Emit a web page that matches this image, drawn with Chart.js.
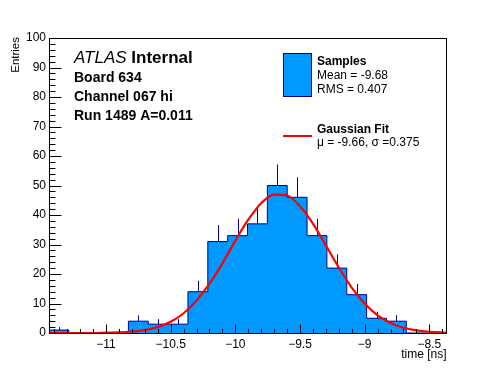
<!DOCTYPE html>
<html>
<head>
<meta charset="utf-8">
<script src="https://cdn.jsdelivr.net/npm/chart.js@4"></script>
<style>
  body { margin: 0; background: #fff; }
  canvas { display: block; }
</style>
</head>
<body>
<canvas id="tiempoChart" width="496" height="372"></canvas>
<script>
// Histogram definition (20 bins over the axis range)
const binLow = -11.441;
const binHigh = -8.371;
const counts = [1, 0, 0, 0, 4, 3, 3, 14, 31, 33, 37, 50, 46, 33, 22, 13, 5, 4, 0, 0];
const errors = [1, 0, 0, 0, 2, 1.7, 1.7, 3.7, 5.6, 5.7, 6.1, 7.1, 6.8, 5.7, 4.7, 3.6, 2.2, 2, 0, 0];

// Gaussian fit curve
const fitX = [-11.44, -11.3, -11.2, -11.1, -11.0, -10.9, -10.8, -10.7, -10.6, -10.5, -10.4, -10.3, -10.2, -10.1, -10.0,
              -9.9, -9.8, -9.7, -9.6, -9.5, -9.4, -9.3, -9.2, -9.1, -9.0, -8.9, -8.8, -8.7, -8.6, -8.5, -8.37];
const fitY = [0, 0, 0, 0, 0.1, 0.2, 0.5, 1.0, 2.0, 3.8, 6.7, 11.0, 16.7, 23.6, 31.3,
              38.4, 44.0, 46.9, 46.6, 43.0, 37.1, 29.7, 22.2, 15.4, 10.0, 6.0, 3.4, 1.8, 0.9, 0.4, 0.1];

const xTicks = [-11, -10.5, -10, -9.5, -9, -8.5];
const yTicks = [0, 10, 20, 30, 40, 50, 60, 70, 80, 90, 100];
const infoLines = ['Board 634', 'Channel 067 hi', 'Run 1489 A=0.011'];

const FONT = "'Liberation Sans', Arial, Helvetica, sans-serif";
const AZUL = '#0099ff';
const AZUL_OSC = '#000099';

const binWidth = (binHigh - binLow) / counts.length;
const histoPts = counts.map((c, i) => ({ x: binLow + i * binWidth, y: c }));
histoPts.push({ x: binHigh, y: counts[counts.length - 1] });

function linea(ctx, x1, y1, x2, y2) {
    ctx.beginPath();
    ctx.moveTo(x1, y1);
    ctx.lineTo(x2, y2);
    ctx.stroke();
}

// Error bars (only the upper half shows above the fill)
const erroresPlugin = {
    id: 'errores',
    beforeDatasetsDraw(chart) {
        const { ctx, scales: { x, y } } = chart;
        ctx.save();
        ctx.strokeStyle = AZUL_OSC;
        ctx.lineWidth = 1;
        counts.forEach((c, i) => {
            if (c <= 0) return;
            const px = Math.round(x.getPixelForValue(binLow + (i + 0.5) * binWidth)) + 0.5;
            linea(ctx, px, y.getPixelForValue(c), px, y.getPixelForValue(c + errors[i]));
        });
        ctx.restore();
    }
};

// Frame, inward ticks, labels and legend, ROOT style
const marcoPlugin = {
    id: 'marco',
    afterDraw(chart) {
        const { ctx, chartArea: a, scales: { x, y } } = chart;
        ctx.save();
        ctx.strokeStyle = '#000';
        ctx.lineWidth = 1;
        const L = Math.round(a.left) + 0.5, R = Math.round(a.right) + 0.5;
        const T = Math.round(a.top) + 0.5, B = Math.round(a.bottom) + 0.5;
        ctx.strokeRect(L, T, R - L, B - T);

        for (let v = 0; v <= 100; v += 2) {
            const py = Math.round(y.getPixelForValue(v)) + 0.5;
            linea(ctx, L, py, L + (v % 10 === 0 ? 12 : 6), py);
        }
        for (let i = -114; i <= -84; i++) {
            const px = Math.round(x.getPixelForValue(i / 10)) + 0.5;
            linea(ctx, px, B, px, B - (i % 5 === 0 ? 9 : 4.5));
        }

        // axis titles
        ctx.fillStyle = '#000';
        ctx.font = '12px ' + FONT;
        ctx.textAlign = 'right';
        ctx.textBaseline = 'alphabetic';
        ctx.fillText('time [ns]', R, 358);
        ctx.font = '11.5px ' + FONT;
        ctx.save();
        ctx.translate(19, a.top - 1);
        ctx.rotate(-Math.PI / 2);
        ctx.fillText('Entries', 0, 0);
        ctx.restore();

        // ATLAS label
        ctx.textAlign = 'left';
        ctx.font = 'italic 17px ' + FONT;
        ctx.fillText('ATLAS', 74, 63);
        const w = ctx.measureText('ATLAS ').width;
        ctx.font = 'bold 17px ' + FONT;
        ctx.fillText('Internal', 74 + w, 63);
        ctx.font = 'bold 14px ' + FONT;
        infoLines.forEach((t, k) => ctx.fillText(t, 74, 82 + k * 19));

        // legend
        ctx.fillStyle = AZUL;
        ctx.fillRect(283.5, 53.5, 28, 43);
        ctx.strokeStyle = AZUL_OSC;
        ctx.strokeRect(283.5, 53.5, 28, 43);
        ctx.strokeStyle = '#ff0000';
        ctx.lineWidth = 2;
        linea(ctx, 283, 136, 312, 136);

        ctx.fillStyle = '#000';
        ctx.font = 'bold 12px ' + FONT;
        ctx.fillText('Samples', 317, 65);
        ctx.fillText('Gaussian Fit', 317, 133);
        ctx.font = '12px ' + FONT;
        ctx.fillText('Mean = -9.68', 317, 79);
        ctx.fillText('RMS = 0.407', 317, 93);
        ctx.fillText('\u03bc = -9.66, \u03c3 =0.375', 317, 146);
        ctx.restore();
    }
};

document.addEventListener('DOMContentLoaded', () => {
    const ctx = document.getElementById('tiempoChart').getContext('2d');
    new Chart(ctx, {
        type: 'line',
        data: {
            datasets: [{
                label: 'Samples',
                data: histoPts,
                stepped: true,
                borderColor: AZUL_OSC,
                borderWidth: 1,
                backgroundColor: AZUL,
                fill: 'origin',
                pointRadius: 0,
                order: 2
            }, {
                label: 'Gaussian Fit',
                data: fitX.map((v, i) => ({ x: v, y: fitY[i] })),
                borderColor: '#ff0000',
                borderWidth: 2.2,
                cubicInterpolationMode: 'monotone',
                fill: false,
                pointRadius: 0,
                order: 1
            }]
        },
        options: {
            responsive: false,
            devicePixelRatio: 1,
            animation: false,
            layout: { padding: { left: 0, top: 38, right: 50, bottom: 0 } },
            plugins: { legend: { display: false }, tooltip: { enabled: false } },
            scales: {
                x: {
                    type: 'linear',
                    min: binLow,
                    max: binHigh,
                    grid: { display: false, drawTicks: false },
                    border: { display: false },
                    afterBuildTicks: s => { s.ticks = xTicks.map(v => ({ value: v })); },
                    afterFit: s => { s.height = 39; },
                    ticks: {
                        padding: 4,
                        maxRotation: 0,
                        color: '#000',
                        font: { family: FONT, size: 12 },
                        callback: v => String(v).replace('-', '\u2212')
                    }
                },
                y: {
                    min: 0,
                    max: 100,
                    grid: { display: false, drawTicks: false },
                    border: { display: false },
                    afterBuildTicks: s => { s.ticks = yTicks.map(v => ({ value: v })); },
                    afterFit: s => { s.width = 49; },
                    ticks: {
                        padding: 3,
                        color: '#000',
                        font: { family: FONT, size: 12 }
                    }
                }
            }
        },
        plugins: [erroresPlugin, marcoPlugin]
    });
});
</script>
</body>
</html>
